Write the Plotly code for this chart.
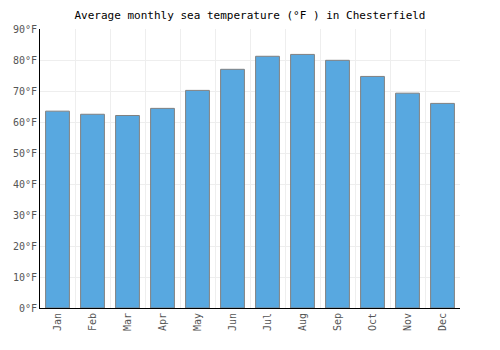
import plotly.graph_objects as go

months = ["Jan", "Feb", "Mar", "Apr", "May", "Jun", "Jul", "Aug", "Sep", "Oct", "Nov", "Dec"]
temps_f = [63.5, 62.5, 62.1, 64.4, 70.2, 77.0, 81.2, 81.8, 79.9, 74.7, 69.3, 66.0]
y_ticks = [0, 10, 20, 30, 40, 50, 60, 70, 80, 90]
y_tick_labels = [f"{v}°F" for v in y_ticks]

font_family = "DejaVu Sans Mono"

fig = go.Figure()
fig.add_trace(go.Bar(
    x=months,
    y=temps_f,
    marker=dict(color="#58a8e0", line=dict(color="#808080", width=1)),
    hoverinfo="x+y",
))

fig.update_layout(
    width=500,
    height=350,
    margin=dict(l=40, r=40, t=29, b=42),
    paper_bgcolor="white",
    plot_bgcolor="white",
    bargap=0.32,
    showlegend=False,
    title=dict(
        text="Average monthly sea temperature (°F ) in Chesterfield",
        x=0.5, xanchor="center", y=0.957, yanchor="middle",
        font=dict(family=font_family, size=11, color="#000"),
    ),
    xaxis=dict(
        tickson="boundaries",
        showgrid=True,
        gridcolor="#eeeeee",
        gridwidth=1,
        showline=True,
        linecolor="#000",
        linewidth=1,
        ticks="",
        tickangle=-90,
        automargin=False,
        tickfont=dict(family=font_family, size=10, color="#555"),
    ),
    yaxis=dict(
        range=[0, 90],
        tickmode="array",
        tickvals=y_ticks,
        ticktext=y_tick_labels,
        showgrid=True,
        gridcolor="#eeeeee",
        gridwidth=1,
        showline=True,
        linecolor="#000",
        linewidth=1,
        zeroline=False,
        ticks="",
        automargin=False,
        tickfont=dict(family=font_family, size=10, color="#555"),
    ),
)

fig.write_html("out.html")
